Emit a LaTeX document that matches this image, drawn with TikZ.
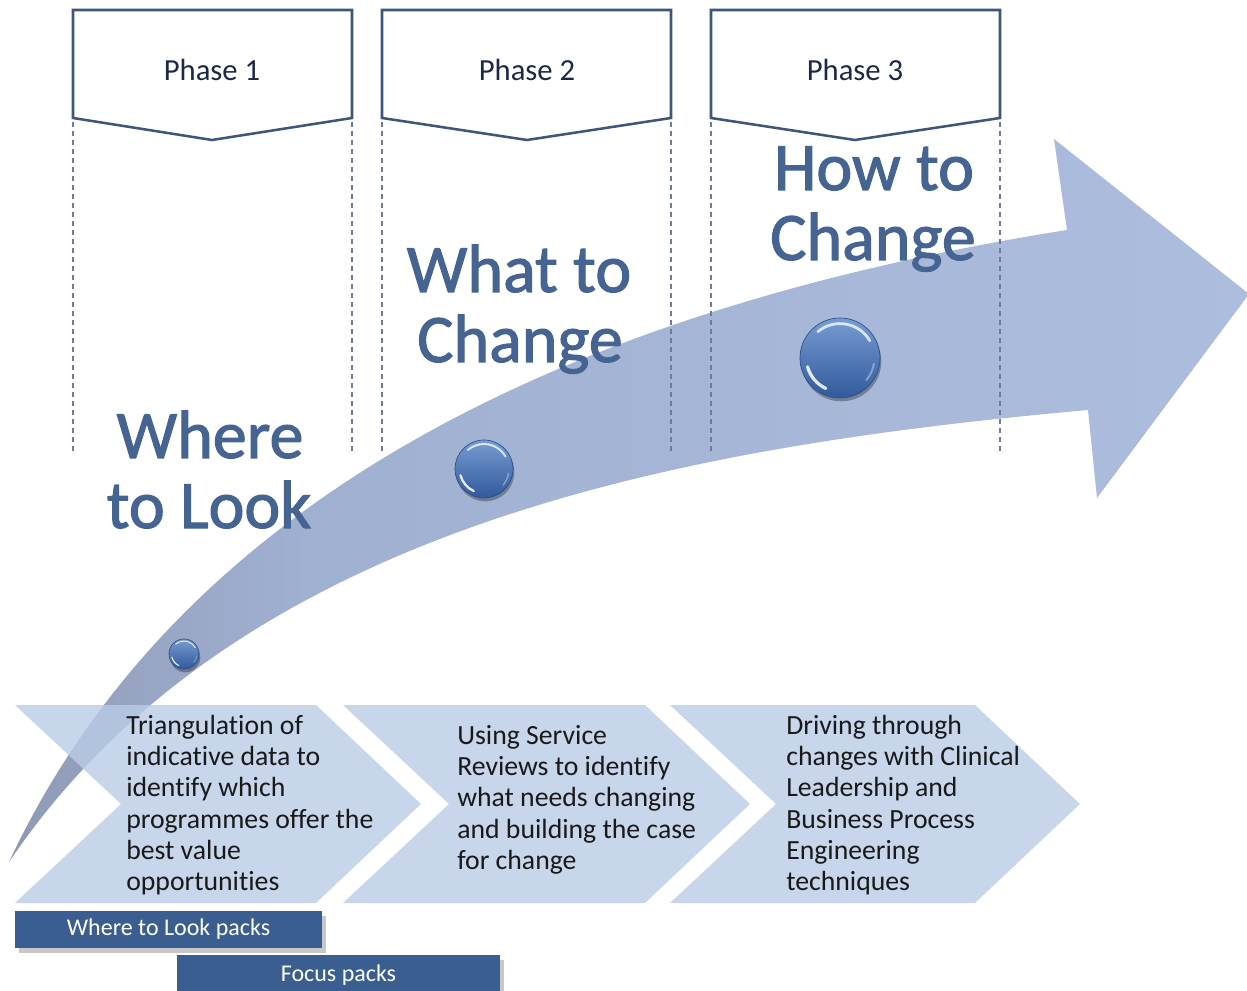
\documentclass[tikz,border=0pt]{standalone}
\usepackage{fontspec}
\setmainfont{Carlito}[Ligatures=NoCommon]
\newfontfamily\bigfont{Carlito}[Ligatures=NoCommon, FakeBold=1.6]
\usetikzlibrary{shadows}

\definecolor{phaseline}{RGB}{62,86,124}
\definecolor{phasetext}{RGB}{28,40,72}
\definecolor{dashc}{RGB}{112,124,148}
\definecolor{chev}{RGB}{186,204,230}
\definecolor{bigtext}{RGB}{70,100,146}
\definecolor{packfill}{RGB}{57,94,143}
\definecolor{adark}{RGB}{142,153,180}
\definecolor{amid}{RGB}{160,176,209}
\definecolor{alight}{RGB}{172,189,222}
\definecolor{bubtop}{RGB}{118,156,210}
\definecolor{bubbot}{RGB}{50,90,156}
\definecolor{bubedge}{RGB}{44,78,136}
\definecolor{chevtextc}{RGB}{25,25,25}

\pgfdeclarehorizontalshading{arrowshade}{100bp}{color(0bp)=(adark); color(25bp)=(adark); color(30bp)=(adark!50!amid); color(37bp)=(amid); color(75bp)=(alight); color(100bp)=(alight)}

\newcommand\bubblehl[2]{%
  \draw[white, opacity=.75, line width=0.07*#2, line cap=round]
    ([shift={(130:0.86*#2)}]#1.center) arc[start angle=130, end angle=30, radius=0.86*#2];
  \draw[white, opacity=.85, line width=0.08*#2, line cap=round]
    ([shift={(195:0.84*#2)}]#1.center) arc[start angle=195, end angle=245, radius=0.84*#2];
  \draw[white, opacity=.35, line width=0.05*#2, line cap=round]
    ([shift={(-10:0.86*#2)}]#1.center) arc[start angle=-10, end angle=-40, radius=0.86*#2];
}

\tikzset{
  phasebox/.style={draw=phaseline, line width=1.9pt, fill=white, line join=miter},
  phaselabel/.style={font=\fontsize{23}{26}\selectfont, text=phasetext, inner sep=0pt},
  dashline/.style={draw=dashc, line width=0.9pt, dash pattern=on 3.75pt off 3pt},
  chevron/.style={fill=chev, fill opacity=.8, draw=none},
  chevtext/.style={font=\fontsize{20.8}{23.5}\selectfont, text=chevtextc, align=left, inner sep=0pt, anchor=north west, yshift=16.45pt},
  bigt/.style={font=\bigfont\fontsize{51}{52}\selectfont, text=bigtext, inner sep=0pt, anchor=base},
  pack/.style={fill=packfill, text=white, font=\fontsize{18}{20}\selectfont, inner sep=0pt,
    drop shadow={shadow xshift=3pt, shadow yshift=-4pt, opacity=.3, fill=black!70}},
  bubble/.style={circle, inner sep=0pt, top color=bubtop, bottom color=bubbot, draw=bubedge, line width=0.5pt,
    drop shadow={shadow xshift=1pt, shadow yshift=-2.5pt, opacity=.3, fill=black}},
}

\begin{document}
\begin{tikzpicture}[x=0.75pt, y=-0.75pt]
\useasboundingbox (0,0) rectangle (1247,991);
\fill[white] (0,0) rectangle (1247,991);

% big curved arrow
\shade[shading=arrowshade]
  (9,862) .. controls (160,540) and (500,320) .. (1067,230)
  -- (1054,139) -- (1249,294) -- (1097,498) -- (1088,410)
  .. controls (700,445) and (240,520) .. (9,862) -- cycle;

% dashed guide lines
\foreach \xx in {73,352,382,671,711,1000}
  \draw[dashline] (\xx,122) -- (\xx,453);

% phase boxes
\draw[phasebox] (73,118) -- (73,10) -- (352,10) -- (352,118) -- (212,140) -- cycle;
\draw[phasebox] (382,118) -- (382,10) -- (671,10) -- (671,118) -- (527,140) -- cycle;
\draw[phasebox] (711,118) -- (711,10) -- (1000,10) -- (1000,118) -- (855,140) -- cycle;
\node[phaselabel] (p1) at (212,70) {Phase 1};
\node[phaselabel] (p2) at (527,70) {Phase 2};
\node[phaselabel] (p3) at (855,70) {Phase 3};

% chevrons
\fill[chevron] (15,705) -- (316,705) -- (421,804) -- (316,903) -- (15,903) -- (121,804) -- cycle;
\fill[chevron] (343,705) -- (645,705) -- (750,804) -- (645,903) -- (343,903) -- (449,804) -- cycle;
\fill[chevron] (670,705) -- (975,705) -- (1080,804) -- (975,903) -- (670,903) -- (776,804) -- cycle;

\node[chevtext] (c1) at (126,734) {\strut Triangulation of\\indicative data to\\identify which\\programmes offer the\\best value\\opportunities};
\node[chevtext] (c2) at (457,744) {\strut Using Service\\Reviews to identify\\what needs changing\\and building the case\\for change};
\node[chevtext] (c3) at (786,734) {\strut Driving through\\changes with Clinical\\Leadership and\\Business Process\\Engineering\\techniques};

% big titles
\node[bigt] (w1) at (210,458) {Where};
\node[bigt] (w2) at (209,528) {to Look};
\node[bigt] (h1) at (519,292) {What to};
\node[bigt] (h2) at (520,362) {Change};
\node[bigt] (k1) at (874,190) {How to};
\node[bigt] (k2) at (873,260) {Change};

% bubbles
\node[bubble, minimum size=22.5pt] (b1) at (184,654) {};
\node[bubble, minimum size=43.5pt] (b2) at (484,469) {};
\node[bubble, minimum size=60pt] (b3) at (840,358) {};
\bubblehl{b1}{11.25pt}
\bubblehl{b2}{21.75pt}
\bubblehl{b3}{30pt}

% packs
\node[pack, minimum width=230.25pt, minimum height=27.75pt] (wp) at (168.5,929.5) {Where to Look packs};
\node[pack, minimum width=242.25pt, minimum height=30pt] (fp) at (338.5,975) {Focus packs};
\end{tikzpicture}
\end{document}
